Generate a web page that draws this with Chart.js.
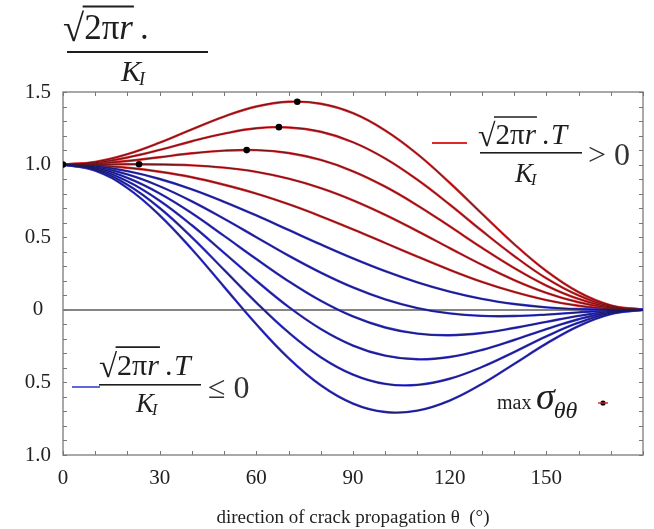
<!DOCTYPE html>
<html><head><meta charset="utf-8">
<script src="https://cdn.jsdelivr.net/npm/chart.js@4.4.0/dist/chart.umd.min.js"></script>
<style>html,body{margin:0;padding:0;background:#fff;}canvas{display:block}</style>
</head><body>
<canvas id="c" width="654" height="529"></canvas>
<script>
// crack propagation direction (degrees)
const THETA = [0,10,20,30,40,50,60,70,80,90,100,110,120,130,140,150,160,170,180];

// normalised hoop stress curves, one per value of sqrt(2*pi*r)*T/K_I
const CURVE_T_P10 = [1.000,1.019,1.072,1.151,1.243,1.331,1.400,1.433,1.419,1.354,1.235,1.072,0.875,0.662,0.453,0.267,0.122,0.031,0];
const CURVE_T_P08 = [1.000,1.013,1.049,1.101,1.161,1.213,1.250,1.256,1.226,1.154,1.042,0.895,0.725,0.544,0.371,0.217,0.099,0.025,0];
const CURVE_T_P06 = [1.000,1.007,1.025,1.051,1.078,1.096,1.100,1.080,1.032,0.954,0.848,0.719,0.575,0.427,0.288,0.167,0.075,0.019,0];
const CURVE_T_P04 = [1.000,1.001,1.002,1.001,0.995,0.979,0.950,0.903,0.838,0.754,0.654,0.542,0.425,0.310,0.205,0.117,0.052,0.013,0];
const CURVE_T_P02 = [1.000,0.995,0.978,0.951,0.913,0.861,0.800,0.727,0.644,0.554,0.460,0.366,0.275,0.192,0.123,0.067,0.028,0.007,0];
const CURVE_T_00  = [1.000,0.989,0.955,0.901,0.830,0.744,0.650,0.550,0.450,0.354,0.266,0.189,0.125,0.075,0.040,0.017,0.005,0.001,0];
const CURVE_T_M02 = [1.000,0.983,0.932,0.851,0.747,0.627,0.500,0.373,0.256,0.154,0.072,0.012,-0.025,-0.042,-0.043,-0.033,-0.018,-0.005,0];
const CURVE_T_M04 = [1.000,0.977,0.908,0.801,0.665,0.509,0.350,0.197,0.062,-0.046,-0.122,-0.164,-0.175,-0.160,-0.125,-0.083,-0.042,-0.011,0];
const CURVE_T_M06 = [1.000,0.971,0.885,0.751,0.582,0.392,0.200,0.020,-0.132,-0.246,-0.316,-0.341,-0.325,-0.277,-0.208,-0.133,-0.065,-0.017,0];
const CURVE_T_M08 = [1.000,0.965,0.861,0.701,0.499,0.275,0.050,-0.156,-0.326,-0.446,-0.510,-0.517,-0.475,-0.394,-0.291,-0.183,-0.089,-0.023,0];
const CURVE_T_M10 = [1.000,0.959,0.838,0.651,0.417,0.158,-0.100,-0.333,-0.520,-0.646,-0.704,-0.694,-0.625,-0.511,-0.373,-0.233,-0.112,-0.030,0];

const POSITIVE_CURVES = [CURVE_T_P10, CURVE_T_P08, CURVE_T_P06, CURVE_T_P04, CURVE_T_P02];
const NONPOSITIVE_CURVES = [CURVE_T_00, CURVE_T_M02, CURVE_T_M04, CURVE_T_M06, CURVE_T_M08, CURVE_T_M10];

// maxima of sigma_theta_theta (black dots)
const MAX_THETA = [0, 23.6, 57, 67, 72.7];
const MAX_VALUE = [1.000, 1.002, 1.100, 1.258, 1.433];

// tick labels (as printed in the figure)
const X_TICK_LABELS = ['0','30','60','90','120','150',''];
const Y_TICK_LABELS = ['1.0','0.5','0','0.5','1.0','1.5'];
const X_TITLE = 'direction of crack propagation θ  (°)';

const SERIF = '"Liberation Serif", "Times New Roman", serif';
const RED_OUT = 'rgb(218,40,44)', RED_IN = 'rgb(100,20,24)';
const BLUE_OUT = 'rgb(50,50,210)', BLUE_IN = 'rgb(25,25,95)';

function pts(arr){ return THETA.map((x,i)=>({x:x, y:arr[i]})); }
function lineDs(arr, color, width, order){
  return {data: pts(arr), showLine:true, borderColor:color, borderWidth:width, pointRadius:0, tension:0.4, fill:false, order:order};
}

const datasets = [];
datasets.push({data: MAX_THETA.map((x,i)=>({x:x,y:MAX_VALUE[i]})), showLine:false, pointRadius:3.3, pointBackgroundColor:'#000', pointBorderWidth:0, order:0});
NONPOSITIVE_CURVES.forEach(a=>{ datasets.push(lineDs(a, BLUE_IN, 1.0, 1)); datasets.push(lineDs(a, BLUE_OUT, 2.4, 2)); });
POSITIVE_CURVES.forEach(a=>{ datasets.push(lineDs(a, RED_IN, 1.0, 1)); datasets.push(lineDs(a, RED_OUT, 2.4, 2)); });

const frameTicks = {
  id:'frameTicks',
  beforeDatasetsDraw(chart){
    const {ctx, chartArea:a, scales:{x, y}} = chart;
    ctx.save();
    ctx.strokeStyle = '#8c8c8c'; ctx.lineWidth = 1.5;
    ctx.strokeRect(a.left, a.top, a.right-a.left, a.bottom-a.top);
    ctx.strokeStyle = '#777'; ctx.lineWidth = 1;
    ctx.beginPath();
    for (let v=0; v<=180; v+=10){
      const px = Math.round(x.getPixelForValue(v))+0.5;
      ctx.moveTo(px, a.bottom); ctx.lineTo(px, a.bottom-4);
      ctx.moveTo(px, a.top); ctx.lineTo(px, a.top+4);
    }
    for (let k=-10; k<=15; k++){
      const py = Math.round(y.getPixelForValue(k/10))+0.5;
      ctx.moveTo(a.left, py); ctx.lineTo(a.left+4, py);
      ctx.moveTo(a.right, py); ctx.lineTo(a.right-4, py);
    }
    ctx.stroke();
    ctx.restore();
  }
};

function radical(ctx, x, base, size, color){
  ctx.fillStyle = color; ctx.strokeStyle = color;
  ctx.font = (size*1.1)+'px '+SERIF;
  ctx.fillText('√', x, base+size*0.07);
  let cx = x + ctx.measureText('√').width;
  const barStart = cx - 1.5;
  ctx.font = size+'px '+SERIF;
  ctx.fillText('2π', cx, base); cx += ctx.measureText('2π').width;
  ctx.font = 'italic '+size+'px '+SERIF;
  ctx.fillText('r', cx, base); cx += ctx.measureText('r').width + 1;
  ctx.lineWidth = Math.max(1.2, size*0.055);
  const top = base - size*0.93;
  ctx.beginPath(); ctx.moveTo(barStart, top); ctx.lineTo(cx, top); ctx.stroke();
  return cx;
}
function kI(ctx, x, base, size, color){
  ctx.fillStyle = color;
  ctx.font = 'italic '+size+'px '+SERIF;
  ctx.fillText('K', x, base);
  const w = ctx.measureText('K').width;
  ctx.font = 'italic '+(size*0.6)+'px '+SERIF;
  ctx.fillText('I', x+w-2, base+size*0.12);
}

const annotations = {
  id:'annotations',
  afterDraw(chart){
    const ctx = chart.ctx;
    const ink = '#1e1e1e';
    ctx.save();
    ctx.textBaseline = 'alphabetic'; ctx.textAlign = 'left';
    // y-axis title (fraction)
    let e = radical(ctx, 63, 39, 35, ink);
    ctx.font = '35px '+SERIF; ctx.fillText('.', e+6, 39);
    ctx.fillRect(67, 51, 141, 2);
    kI(ctx, 121, 81, 30, ink);

    // red legend
    ctx.fillStyle = 'rgb(225,40,40)'; ctx.fillRect(432, 142, 35, 2);
    e = radical(ctx, 478, 144, 29, ink);
    ctx.font = '29px '+SERIF; ctx.fillText('.', e+5, 144);
    ctx.font = 'italic 29px '+SERIF; ctx.fillText('T', e+14, 144);
    ctx.fillRect(480, 152, 102, 1.6);
    kI(ctx, 515, 182, 27, ink);
    ctx.font = '32px '+SERIF; ctx.fillStyle = '#333'; ctx.fillText('> 0', 588, 165);

    // blue legend
    ctx.fillStyle = 'rgb(95,105,215)'; ctx.fillRect(72, 386, 28, 2);
    e = radical(ctx, 99, 375, 30, ink);
    ctx.font = '30px '+SERIF; ctx.fillText('.', e+5, 375);
    ctx.font = 'italic 30px '+SERIF; ctx.fillText('T', e+14, 375);
    ctx.fillRect(99, 384, 102, 1.6);
    kI(ctx, 136, 412, 27, ink);
    ctx.font = '32px '+SERIF; ctx.fillStyle = '#333'; ctx.fillText('≤ 0', 208, 398);

    // max sigma legend
    ctx.fillStyle = ink;
    ctx.font = '20px '+SERIF; ctx.fillText('max', 497, 409);
    ctx.font = 'italic 38px '+SERIF; ctx.fillText('σ', 536, 409);
    const ws = ctx.measureText('σ').width;
    ctx.font = 'italic 24px '+SERIF; ctx.fillText('θθ', 536+ws-1, 418);
    ctx.fillStyle = '#000';
    ctx.beginPath(); ctx.arc(603, 403, 2.6, 0, Math.PI*2); ctx.fill();
    ctx.fillStyle = 'rgb(200,40,40)'; ctx.fillRect(598, 402.3, 10, 1.4);
    ctx.restore();
  }
};

new Chart(document.getElementById('c'), {
  type:'scatter',
  data:{datasets},
  options:{
    responsive:false, animation:false, devicePixelRatio:1,
    layout:{padding:{top:92, right:9, left:0, bottom:0}},
    plugins:{legend:{display:false}, tooltip:{enabled:false}},
    scales:{
      x:{type:'linear', min:0, max:180,
        grid:{display:false, drawTicks:false}, border:{display:false},
        ticks:{stepSize:30, padding:11, autoSkip:false, maxRotation:0, color:'#222',
          font:{family:SERIF, size:21},
          callback:(v,i)=>X_TICK_LABELS[i]},
        title:{display:true, text:X_TITLE, color:'#222', font:{family:SERIF, size:19}, padding:{top:0,bottom:0}},
        afterFit(s){ s.height = 74; }
      },
      y:{type:'linear', min:-1, max:1.5,
        grid:{drawTicks:false, lineWidth:2, color:(c)=> (c.tick && c.tick.value===0) ? '#858585' : 'rgba(0,0,0,0)'},
        border:{display:false},
        ticks:{stepSize:0.5, padding:12, crossAlign:'center', color:'#222',
          font:{family:SERIF, size:21},
          callback:(v,i)=>Y_TICK_LABELS[i]},
        afterFit(s){ s.width = 63; }
      }
    }
  },
  plugins:[frameTicks, annotations]
});
</script>
</body></html>
